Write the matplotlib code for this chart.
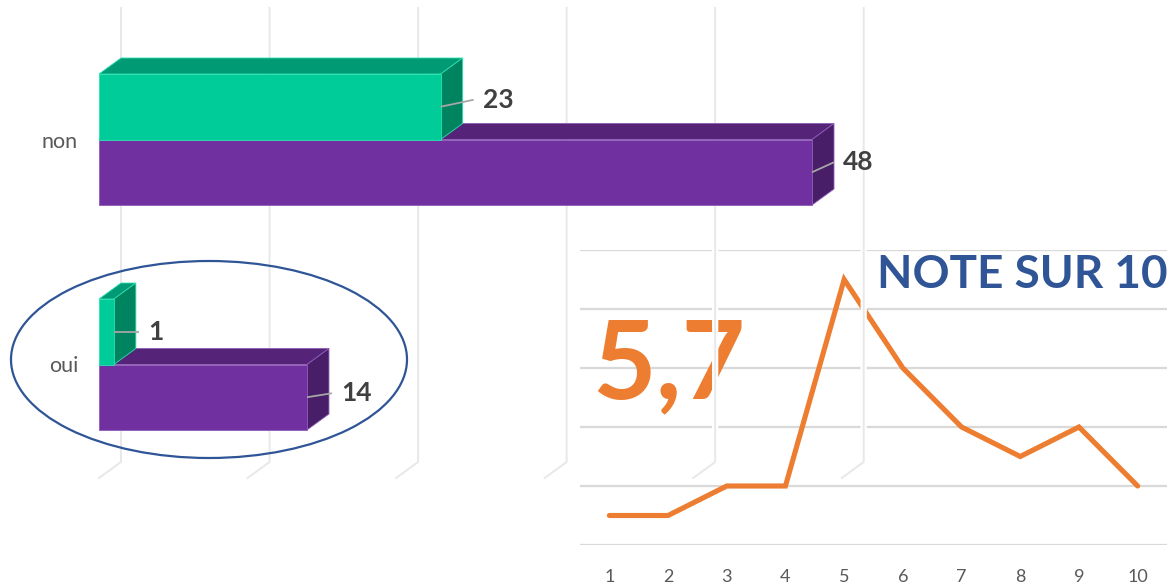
import matplotlib
matplotlib.use('Agg')
import matplotlib.pyplot as plt
from matplotlib.patches import Polygon, Rectangle, Ellipse
import matplotlib.patheffects as pe

# ---------------- data ----------------
categories = ['non', 'oui']
green_values = [23, 1]
purple_values = [48, 14]
bar_ticks = [0, 10, 20, 30, 40, 50]

notes = [1, 2, 3, 4, 5, 6, 7, 8, 9, 10]
note_counts = [1, 1, 2, 2, 9, 6, 4, 3, 4, 2]
note_yticks = [0, 2, 4, 6, 8, 10]
average_text = '5,7'
title_text = 'NOTE SUR 10'

# ---------------- style ----------------
FONT = 'Lato'
W, H, DPI = 1170, 586, 100
GREEN = dict(front='#00CC99', top='#009A74', side='#00835F', edge='#2BE0B0')
PURPLE = dict(front='#7030A0', top='#552479', side='#481E68', edge='#8E5CB8')
ORANGE = '#ED7D31'
BLUE = '#2F5597'
GRAYTXT = '#595959'
LABEL = '#404040'

fig = plt.figure(figsize=(W / DPI, H / DPI), dpi=DPI)
fig.patch.set_facecolor('white')

# ---------------- line chart (bottom right) ----------------
lx0, lx1, ly_top, ly_bot = 580, 1167, 250, 545
axl = fig.add_axes([lx0 / W, 1 - ly_bot / H, (lx1 - lx0) / W, (ly_bot - ly_top) / H], zorder=1)
axl.patch.set_alpha(0)
axl.plot(notes, note_counts, color=ORANGE, lw=3.7, solid_capstyle='round',
         solid_joinstyle='miter', zorder=3)
axl.set_xlim(notes[0] - 0.5, notes[-1] + 0.5)
axl.set_ylim(note_yticks[0], note_yticks[-1])
axl.set_yticks(note_yticks)
axl.yaxis.grid(True, color='#D9D9D9', lw=1.6)
axl.set_axisbelow(True)
for s in axl.spines.values():
    s.set_visible(False)
axl.set_xticks(notes)
axl.set_xticklabels([str(n) for n in notes], fontsize=13, color=GRAYTXT, family=FONT)
axl.tick_params(left=False, bottom=False, labelleft=False)
axl.tick_params(axis='x', pad=13.5)

axl.text(592 / W, 1 - 398 / H, average_text, transform=fig.transFigure, fontsize=79,
         fontweight='bold', color=ORANGE, family=FONT, ha='left', va='baseline', zorder=4)
axl.text(1168 / W, 1 - 288 / H, title_text, transform=fig.transFigure, fontsize=33,
         fontweight='bold', color=BLUE, family=FONT, ha='right', va='baseline', zorder=4)

# ---------------- 3D bar chart ----------------
axb = fig.add_axes([0, 0, 1, 1], zorder=5)
axb.patch.set_alpha(0)
axb.axis('off')

x0_px = 99.0
px_per_unit = (812 - 99) / 48.0
cat0_px = 139.5
px_per_cat = 225.0
axb.set_xlim(-x0_px / px_per_unit, (W - x0_px) / px_per_unit)
axb.set_ylim((H - cat0_px) / px_per_cat, -cat0_px / px_per_cat)


def dxp(px):
    return px / px_per_unit


def dyp(px):
    return px / px_per_cat


def ypx(px):
    return (px - cat0_px) / px_per_cat


DX, DY = dxp(22), dyp(-16)
BAR_H = dyp(65.5)

# gridlines (back wall + foot), drawn with white halo
halo = [pe.Stroke(linewidth=4.5, foreground='white'), pe.Normal()]
for t in bar_ticks:
    xs = [t + DX, t + DX, t]
    ys = [ypx(8), ypx(462), ypx(462) - DY]
    axb.plot(xs, ys, color='#E8E8E8', lw=1.4, solid_joinstyle='miter',
             path_effects=halo, zorder=1)


def draw_box(v, y0, col, z):
    top = Polygon([(0, y0), (v, y0), (v + DX, y0 + DY), (DX, y0 + DY)],
                  closed=True, facecolor=col['top'], edgecolor=col['edge'], lw=0.6, zorder=z)
    side = Polygon([(v, y0), (v + DX, y0 + DY), (v + DX, y0 + BAR_H + DY), (v, y0 + BAR_H)],
                   closed=True, facecolor=col['side'], edgecolor=col['edge'], lw=0.6, zorder=z)
    axb.add_patch(top)
    axb.add_patch(side)
    axb.barh([y0 + BAR_H / 2], [v], height=BAR_H, left=0, color=col['front'],
             edgecolor=col['edge'], lw=0.6, zorder=z + 0.1)


for i in range(len(categories)):
    draw_box(purple_values[i], i, PURPLE, 2 + 2 * i)
    draw_box(green_values[i], i - BAR_H, GREEN, 3 + 2 * i)

# data labels with leader lines (pixel offsets of label from back edge of bar)
label_offsets = {('g', 0): (20, -7), ('p', 0): (9, -10), ('g', 1): (12, 0), ('p', 1): (12, -4)}
for i in range(len(categories)):
    for key, vals, yc in (('g', green_values, i - BAR_H / 2), ('p', purple_values, i + BAR_H / 2)):
        v = vals[i]
        ox, oy = label_offsets[(key, i)]
        lx = v + DX + dxp(ox)
        ly = yc + dyp(oy)
        axb.plot([v, lx - dxp(9)], [yc, ly], color='#A6A6A6', lw=1.3, zorder=10,
                 solid_capstyle='butt')
        axb.text(lx, ly, str(v), fontsize=19, fontweight='bold', color=LABEL, family=FONT,
                 ha='left', va='center', zorder=11)

# category labels
for i, c in enumerate(categories):
    axb.text(dxp(78 - x0_px), i + dyp(2), c, fontsize=15.5, color=GRAYTXT, family=FONT,
             ha='right', va='center', zorder=11)

# highlight ellipse around "oui"
axb.add_patch(Ellipse((dxp(209 - x0_px), ypx(359.5)), dxp(396), dyp(197), fill=False,
                      edgecolor=BLUE, lw=1.6, zorder=12))

fig.savefig('out.png', dpi=DPI, facecolor='white')
